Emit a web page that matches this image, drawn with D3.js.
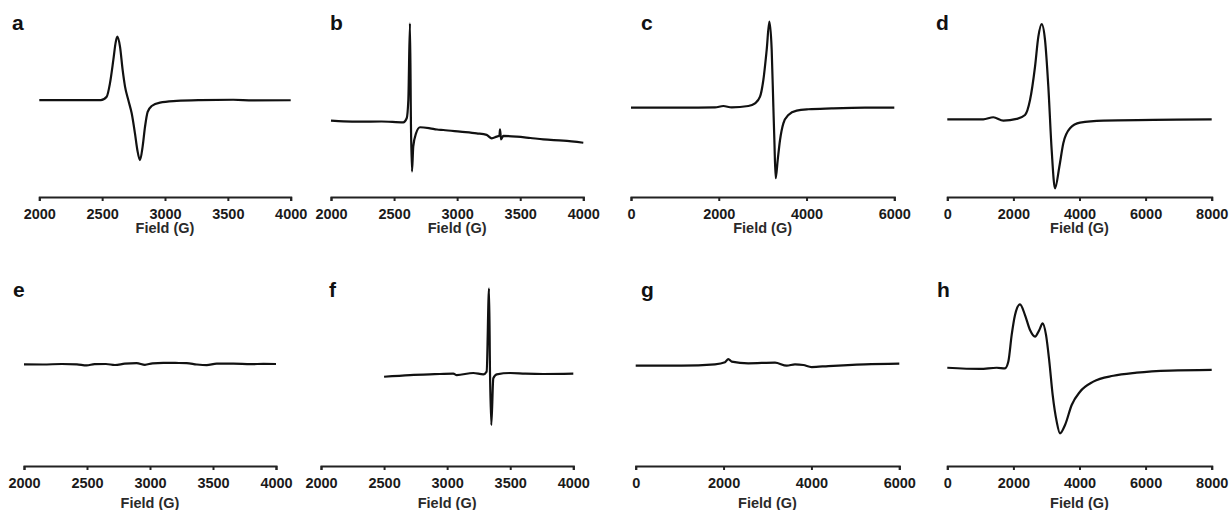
<!DOCTYPE html>
<html>
<head>
<meta charset="utf-8">
<script src="https://cdn.jsdelivr.net/npm/d3@7"></script>
<style>
  html, body { margin: 0; padding: 0; background: #fff; }
  svg { display: block; font-family: "Liberation Sans", Arial, sans-serif; }
  .trace { fill: none; stroke: #111; stroke-width: 2.2; stroke-linejoin: round; }
  .axis path, .axis line { stroke: #222; stroke-width: 2; }
  .axis text { font-size: 14.5px; font-weight: bold; fill: #1a1a1a; }
  .xlabel { font-size: 14.5px; font-weight: bold; fill: #2a2a2a; text-anchor: middle; }
  .letter { font-size: 21px; font-weight: bold; fill: #111; }
</style>
</head>
<body>
<svg id="chart" width="1231" height="510"></svg>
<script>
// EPR spectra, field in gauss, signal in arbitrary units (0..100)
const fieldA = [2000, 2300, 2489, 2536, 2562, 2589, 2608, 2621, 2642, 2663, 2682, 2708, 2735, 2761, 2780, 2801, 2822, 2841, 2862, 2894, 2960, 3093, 3278, 3543, 3700, 4000];
const signalA = [52.9, 52.9, 52.9, 54.9, 62.7, 76.5, 87, 90.2, 84.3, 70.6, 60.8, 52.9, 45.1, 33.3, 23.5, 17.6, 25.5, 37.2, 46, 49.4, 51.4, 52.4, 52.9, 53.1, 52.7, 52.9];

const fieldB = [2000, 2100, 2230, 2400, 2573, 2600, 2613, 2626, 2634, 2642, 2652, 2674, 2706, 2785, 2840, 2890, 3023, 3155, 3234, 3274, 3313, 3335, 3340, 3348, 3366, 3472, 3580, 3683, 3841, 4000];
const signalB = [40.8, 40.4, 40.2, 40.3, 39.8, 42.2, 52.9, 98, 37.2, 10.8, 25.5, 33.3, 36.9, 36.3, 35.6, 35.3, 34.3, 33.3, 32.4, 30.4, 31.4, 32, 35.7, 29.8, 31.8, 31.4, 30.6, 29.8, 29, 27.8];

const fieldC = [0, 1155, 1914, 2104, 2294, 2674, 2826, 2940, 3016, 3092, 3153, 3206, 3244, 3267, 3297, 3343, 3396, 3472, 3586, 3776, 4041, 4573, 5332, 6000];
const signalC = [48.4, 48.4, 48.6, 49.4, 48.6, 49.4, 51, 54.9, 64.7, 82.4, 99, 82.4, 49, 29.4, 6.9, 17.6, 29.4, 39.2, 44.1, 46.7, 47.5, 48, 48.4, 48.4];

const fieldD = [0, 1090, 1392, 1695, 2099, 2351, 2503, 2654, 2755, 2856, 2957, 3057, 3158, 3259, 3390, 3510, 3713, 4016, 4721, 6234, 8000];
const signalD = [41.6, 41.6, 42.8, 40.8, 41.8, 44.1, 52.9, 72.5, 90.2, 97.6, 88.2, 60.8, 23.5, 1, 13.7, 27.5, 36.3, 39.6, 40.8, 41.2, 41.6];

const fieldE = [2000, 2150, 2300, 2420, 2497, 2560, 2650, 2722, 2800, 2894, 2960, 3020, 3106, 3200, 3291, 3371, 3450, 3529, 3661, 3800, 3900, 4000];
const signalE = [55.1, 55, 55.3, 55.1, 54.5, 55.2, 55.3, 54.7, 55.5, 55.8, 54.8, 55.7, 56, 55.9, 55.8, 55, 54.6, 55.5, 55.5, 55.2, 55.4, 55.3];

const fieldF = [2500, 2706, 2900, 3049, 3076, 3207, 3287, 3313, 3332, 3340, 3350, 3366, 3393, 3498, 3620, 3762, 4000];
const signalF = [47.8, 48.8, 49.3, 49.6, 48.8, 50, 49.2, 50.8, 99.8, 48.8, 19.4, 46.9, 49.2, 50, 49.6, 49.4, 49.6];

const fieldG = [0, 1047, 1805, 2033, 2108, 2185, 2563, 3171, 3437, 3626, 3815, 4006, 4384, 5219, 6000];
const signalG = [54.3, 54.3, 55.1, 56.3, 58.2, 56.7, 55.7, 56.1, 54.3, 55.1, 54.7, 53.5, 54.1, 55.1, 55.5];

const fieldH = [0, 990, 1494, 1746, 1847, 1948, 2049, 2200, 2351, 2503, 2654, 2784, 2886, 2987, 3087, 3188, 3310, 3410, 3562, 3764, 4016, 4418, 5023, 5731, 6739, 8000];
const signalH = [53.1, 52.4, 53.1, 52.7, 56.7, 72.4, 84.1, 90.4, 84.1, 75.3, 71.4, 75.3, 79.2, 72.4, 56.7, 37.1, 21.4, 14.5, 19.4, 31.2, 39, 44.9, 48.4, 50.2, 51.4, 51.8];

const ticks2to4 = [2000, 2500, 3000, 3500, 4000];
const ticks0to6 = [0, 2000, 4000, 6000];
const ticks0to8 = [0, 2000, 4000, 6000, 8000];

const xLabel = 'Field (G)';

const panels = [
  { letter: 'a', field: fieldA, signal: signalA, domain: [2000, 4000], ticks: ticks2to4, x0: 39.3, x1: 290.7, lx: 12, row: 0 },
  { letter: 'b', field: fieldB, signal: signalB, domain: [2000, 4000], ticks: ticks2to4, x0: 331, x1: 583.3, lx: 330, row: 0 },
  { letter: 'c', field: fieldC, signal: signalC, domain: [0, 6000], ticks: ticks0to6, x0: 631, x1: 894.3, lx: 641, row: 0 },
  { letter: 'd', field: fieldD, signal: signalD, domain: [0, 8000], ticks: ticks0to8, x0: 947.3, x1: 1211.7, lx: 936, row: 0 },
  { letter: 'e', field: fieldE, signal: signalE, domain: [2000, 4000], ticks: ticks2to4, x0: 24, x1: 276, lx: 13, row: 1 },
  { letter: 'f', field: fieldF, signal: signalF, domain: [2000, 4000], ticks: ticks2to4, x0: 321, x1: 573.3, lx: 329, row: 1 },
  { letter: 'g', field: fieldG, signal: signalG, domain: [0, 6000], ticks: ticks0to6, x0: 635.7, x1: 899.3, lx: 641, row: 1 },
  { letter: 'h', field: fieldH, signal: signalH, domain: [0, 8000], ticks: ticks0to8, x0: 947.3, x1: 1211.7, lx: 937, row: 1 }
];

// per-row vertical layout
const rows = [
  { top: 20, bottom: 190, axisY: 197, labelY: 233, letterY: 29.5 },
  { top: 288, bottom: 458, axisY: 466, labelY: 508, letterY: 297 }
];

const svg = d3.select('#chart');

for (const p of panels) {
  const r = rows[p.row];
  const x = d3.scaleLinear().domain(p.domain).range([p.x0, p.x1]);
  const y = d3.scaleLinear().domain([0, 100]).range([r.bottom, r.top]);
  const g = svg.append('g').attr('class', 'panel');

  const line = d3.line()
    .x((d) => x(d[0]))
    .y((d) => y(d[1]))
    .curve(d3.curveMonotoneX);

  g.append('path')
    .attr('class', 'trace')
    .attr('d', line(d3.zip(p.field, p.signal)));

  g.append('g')
    .attr('class', 'axis')
    .attr('transform', `translate(0,${r.axisY})`)
    .call(d3.axisBottom(x).tickValues(p.ticks).tickFormat(d3.format('d')).tickSize(4).tickPadding(8))
    .attr('font-family', null)
    .attr('font-size', null);

  g.append('text')
    .attr('class', 'xlabel')
    .attr('x', (p.x0 + p.x1) / 2)
    .attr('y', r.labelY)
    .text(xLabel);

  g.append('text')
    .attr('class', 'letter')
    .attr('x', p.lx)
    .attr('y', r.letterY)
    .text(p.letter);
}
</script>
</body>
</html>
